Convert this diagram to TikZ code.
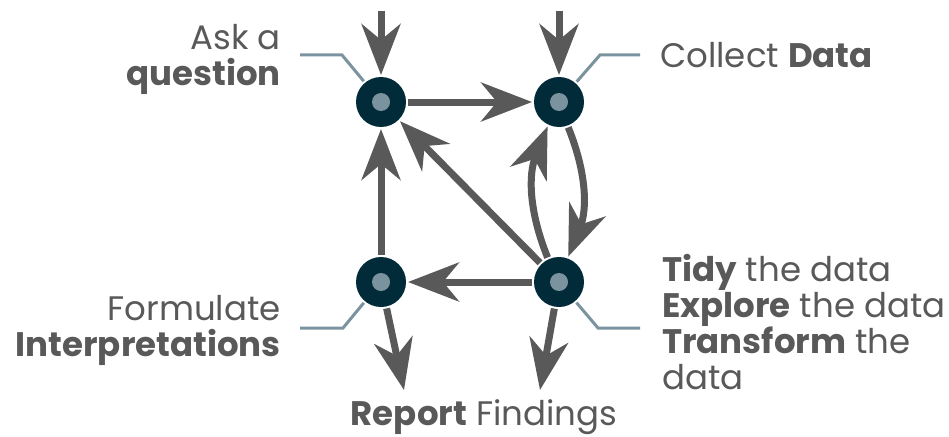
\documentclass[tikz,border=0pt]{standalone}
\usepackage{fontspec}
\setmainfont{Poppins}
\usetikzlibrary{arrows.meta, calc, positioning}

\definecolor{stagedark}{HTML}{022B3A}
\definecolor{stagedot}{HTML}{7B939E}
\definecolor{flowgray}{HTML}{595959}

\tikzset{
  stage/.style = {circle, fill=stagedark, minimum size=50pt, inner sep=0pt, outer sep=2pt},
  flow/.style = {draw=flowgray, line width=7pt,
    -{Stealth[length=51pt, width=39pt, inset=16pt]}},
  leader/.style = {draw=stagedot, line width=3pt},
  caption/.style = {text=flowgray, font=\fontsize{34}{36}\selectfont, inner sep=0pt}
}

\begin{document}
\begin{tikzpicture}[x=1pt, y=-1pt]
  \useasboundingbox (0,0) rectangle (949,436);

  % the four stages
  \node [stage] (ask)     at (381,102) {};
  \node [stage] (collect) at (559,102) {};
  \node [stage] (interp)  at (381,282) {};
  \node [stage] (tidy)    at (559,282) {};

  \coordinate (askin)     at (381,11);
  \coordinate (collectin) at (559,11);
  \coordinate (reportA)   at (404,390);
  \coordinate (reportB)   at (540,390);

  % arrows between stages
  \draw [flow] (askin) -- (ask);
  \draw [flow] (collectin) -- (collect);
  \draw [flow] (ask) -- (collect);
  \draw [flow] (tidy) -- (interp);
  \draw [flow] (interp) -- (ask);
  \draw [flow] (tidy) -- (ask);
  \draw [flow] (collect.-70) to [bend left=22] (tidy.70);
  \draw [flow] (tidy.115) to [bend left=22] (collect.-115);
  \draw [flow] (interp) -- (reportA);
  \draw [flow] (tidy) -- (reportB);

  % leader lines to the labels
  \draw [leader] (ask) -- (342,55) -- (300,55);
  \draw [leader] (collect) -- (600,55) -- (640,55);
  \draw [leader] (interp) -- (343,328) -- (300,328);
  \draw [leader] (tidy) -- (598,328) -- (640,328);
  \foreach \s in {ask, collect, interp, tidy}
    \fill [stagedot] (\s) circle (9pt);

  % labels
  \node [caption, anchor=east, align=right] (asklabel) at (281,59)
    {Ask a\\\textbf{question}};
  \node [caption, anchor=base west] (collectlabel) at (660,67)
    {Collect \textbf{Data}};
  \node [caption, anchor=east, align=right] (interplabel) at (281,330)
    {Formulate\\\textbf{Interpretations}};
  \node [caption, anchor=north west, align=left] (tidylabel) at (662,254)
    {\textbf{Tidy} the data\\\textbf{Explore} the data\\\textbf{Transform} the\\data};
  \node [caption, anchor=base] (reportlabel) at (484,425)
    {\textbf{Report} Findings};
\end{tikzpicture}
\end{document}
